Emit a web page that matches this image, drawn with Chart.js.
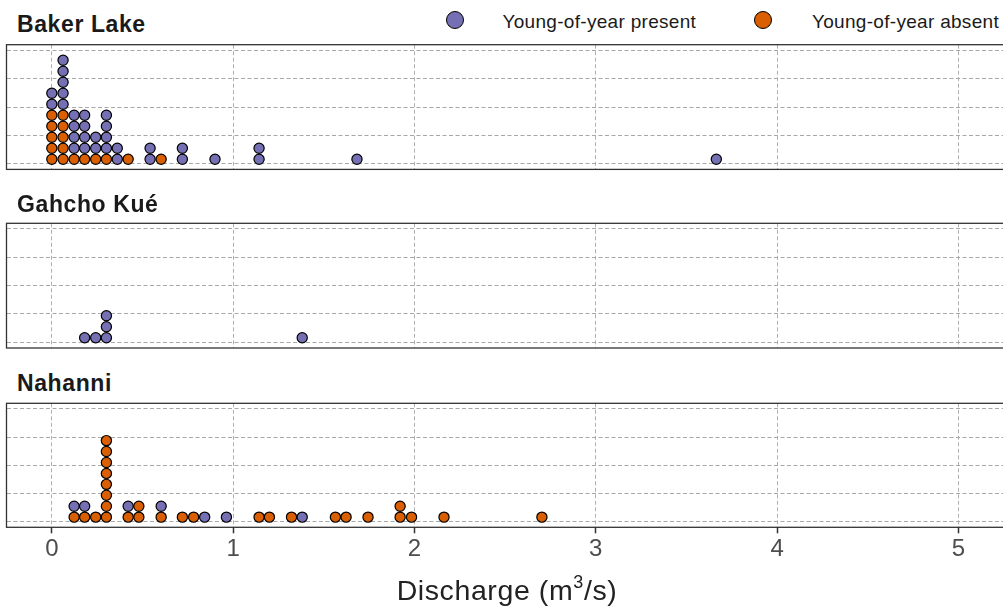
<!DOCTYPE html>
<html lang="en">
<head>
  <meta charset="UTF-8">
  <title>Young-of-year presence by discharge</title>
  <script src="https://cdn.jsdelivr.net/npm/chart.js@4/dist/chart.umd.min.js"></script>
  <style>
    html, body { margin: 0; padding: 0; width: 1003px; height: 611px; overflow: hidden; background: #fff; }
    body { position: relative; font-family: "Liberation Sans", Arial, sans-serif; }
    .panel { position: absolute; left: 0; width: 1010px; }
    .site {
      position: absolute; left: 17px; z-index: 2;
      font-size: 23px; line-height: 23px; font-weight: bold;
      letter-spacing: 0.6px; color: #1a1a1a;
    }
    .key-dot {
      position: absolute; top: 11.2px; width: 16px; height: 16px;
      border: 1.5px solid #000; border-radius: 50%;
    }
    .key-text {
      position: absolute; top: 11.6px; font-size: 19px; line-height: 19px;
      letter-spacing: 0.3px; color: #1a1a1a; white-space: nowrap;
    }
    .x-title {
      position: absolute; left: 0; width: 1014px; top: 573px; text-align: center;
      font-size: 28.5px; line-height: 34px; color: #222; letter-spacing: 0.6px;
    }
    .x-title sup { font-size: 18px; line-height: 0; position: relative; top: -2px; }
  </style>
</head>
<body>
  <div id="key0" class="key-dot" style="left:445.5px"></div>
  <div id="label0" class="key-text" style="left:502.5px"></div>
  <div id="key1" class="key-dot" style="left:754px"></div>
  <div id="label1" class="key-text" style="left:812px"></div>

  <div id="site0" class="site" style="top:13px"></div>
  <div class="panel" style="top:38px"><canvas id="chart0" width="1010" height="138"></canvas></div>

  <div id="site1" class="site" style="top:193px"></div>
  <div class="panel" style="top:216px"><canvas id="chart1" width="1010" height="139"></canvas></div>

  <div id="site2" class="site" style="top:372.4px"></div>
  <div class="panel" style="top:396px"><canvas id="chart2" width="1010" height="215"></canvas></div>

  <div class="x-title">Discharge (m<sup>3</sup>/s)</div>

  <script>
    // Discharge (m3/s) of each sampled site, one entry per dot
    var bakerPresent = [0, 0, 0.062, 0.062, 0.062, 0.062, 0.062, 0.123, 0.123, 0.123, 0.123,
      0.181, 0.181, 0.181, 0.181, 0.242, 0.242, 0.301, 0.301, 0.301, 0.301, 0.361, 0.361,
      0.542, 0.542, 0.72, 0.72, 0.90, 1.143, 1.143, 1.683, 3.665];
    var bakerAbsent = [0, 0, 0, 0, 0, 0.062, 0.062, 0.062, 0.062, 0.062,
      0.123, 0.181, 0.242, 0.301, 0.421, 0.603];

    var gahchoPresent = [0.181, 0.242, 0.301, 0.301, 0.301, 1.381];
    var gahchoAbsent = [];

    var nahanniPresent = [0.123, 0.181, 0.421, 0.603, 0.843, 0.963, 1.381];
    var nahanniAbsent = [0.123, 0.181, 0.242, 0.301, 0.301, 0.301, 0.301, 0.301, 0.301, 0.301, 0.301,
      0.421, 0.48, 0.48, 0.603, 0.72, 0.782, 1.143, 1.20, 1.322, 1.564, 1.623, 1.744,
      1.921, 1.921, 1.984, 2.163, 2.703];

    var siteNames = ["Baker Lake", "Gahcho Kué", "Nahanni"];
    var groupLabels = ["Young-of-year present", "Young-of-year absent"];
    var groupColors = ["#7570b3", "#d95f02"];
    var xTicks = [0, 1, 2, 3, 4, 5];
    var yGrid = [0, 0.25, 0.5, 0.75, 1];

    // dot stacking (y units): centre of the first dot and distance between dots
    var DOT_BASE = 0.04;
    var DOT_STEP = 0.097;

    /* Stack the dots of each bin: absent at the bottom, present on top */
    function stackDots(absent, present) {
      var height = {};
      function place(v) {
        var key = v.toFixed(3);
        var n = height[key] || 0;
        height[key] = n + 1;
        return { x: v, y: DOT_BASE + n * DOT_STEP };
      }
      var a = absent.map(place);
      var p = present.map(place);
      return { present: p, absent: a };
    }

    /* Dark frame round the plotting area */
    var panelFrame = {
      id: "panelFrame",
      beforeDatasetsDraw: function(chart) {
        var a = chart.chartArea;
        var ctx = chart.ctx;
        ctx.save();
        ctx.strokeStyle = "#333";
        ctx.lineWidth = 1.3;
        ctx.strokeRect(a.left, a.top, a.right - a.left, a.bottom - a.top);
        ctx.restore();
      }
    };

    function makePanel(canvasId, absent, present, padTop, padBottom, showAxis) {
      var dots = stackDots(absent, present);
      var dotStyle = { showLine: false, pointRadius: 5.1, pointHoverRadius: 5.1,
        pointBorderColor: "#000", pointBorderWidth: 1.2, clip: false };

      return new Chart(document.getElementById(canvasId), {
        type: "scatter",
        data: {
          datasets: [
            Object.assign({ label: groupLabels[1], data: dots.absent,
              pointBackgroundColor: groupColors[1] }, dotStyle),
            Object.assign({ label: groupLabels[0], data: dots.present,
              pointBackgroundColor: groupColors[0] }, dotStyle)
          ]
        },
        options: {
          responsive: false,
          animation: false,
          events: [],
          layout: { padding: { left: 6.5, right: 2.5, top: padTop, bottom: padBottom } },
          plugins: { legend: { display: false }, tooltip: { enabled: false } },
          scales: {
            x: {
              type: "linear", min: -0.25, max: 5.25,
              afterBuildTicks: function(scale) {
                scale.ticks = xTicks.map(function(v) { return { value: v }; });
              },
              border: { display: false, dash: [4, 2.5] },
              grid: { color: "#b0b0b0", lineWidth: 1, drawTicks: showAxis, tickLength: 6,
                tickColor: "#333", tickWidth: 1.5, tickBorderDash: [] },
              ticks: { display: showAxis, padding: 2, color: "#4d4d4d",
                font: { family: "'Liberation Sans', Arial, sans-serif", size: 24 } }
            },
            y: {
              type: "linear", min: -0.05, max: 1.05,
              afterBuildTicks: function(scale) {
                scale.ticks = yGrid.map(function(v) { return { value: v }; });
              },
              border: { display: false, dash: [4, 2.5] },
              grid: { color: "#a8a8a8", lineWidth: 1, drawTicks: false },
              ticks: { display: false }
            }
          }
        },
        plugins: [panelFrame]
      });
    }

    // text of the headings and the key
    siteNames.forEach(function(name, i) {
      document.getElementById("site" + i).textContent = name;
    });
    groupLabels.forEach(function(label, i) {
      document.getElementById("label" + i).textContent = label;
      document.getElementById("key" + i).style.background = groupColors[i];
    });

    makePanel("chart0", bakerAbsent, bakerPresent, 6.7, 6.6, false);
    makePanel("chart1", gahchoAbsent, gahchoPresent, 7.3, 7.0, false);
    // bottom panel keeps room below for the tick labels
    makePanel("chart2", nahanniAbsent, nahanniPresent, 7.3, 44.9, true);
  </script>
</body>
</html>
